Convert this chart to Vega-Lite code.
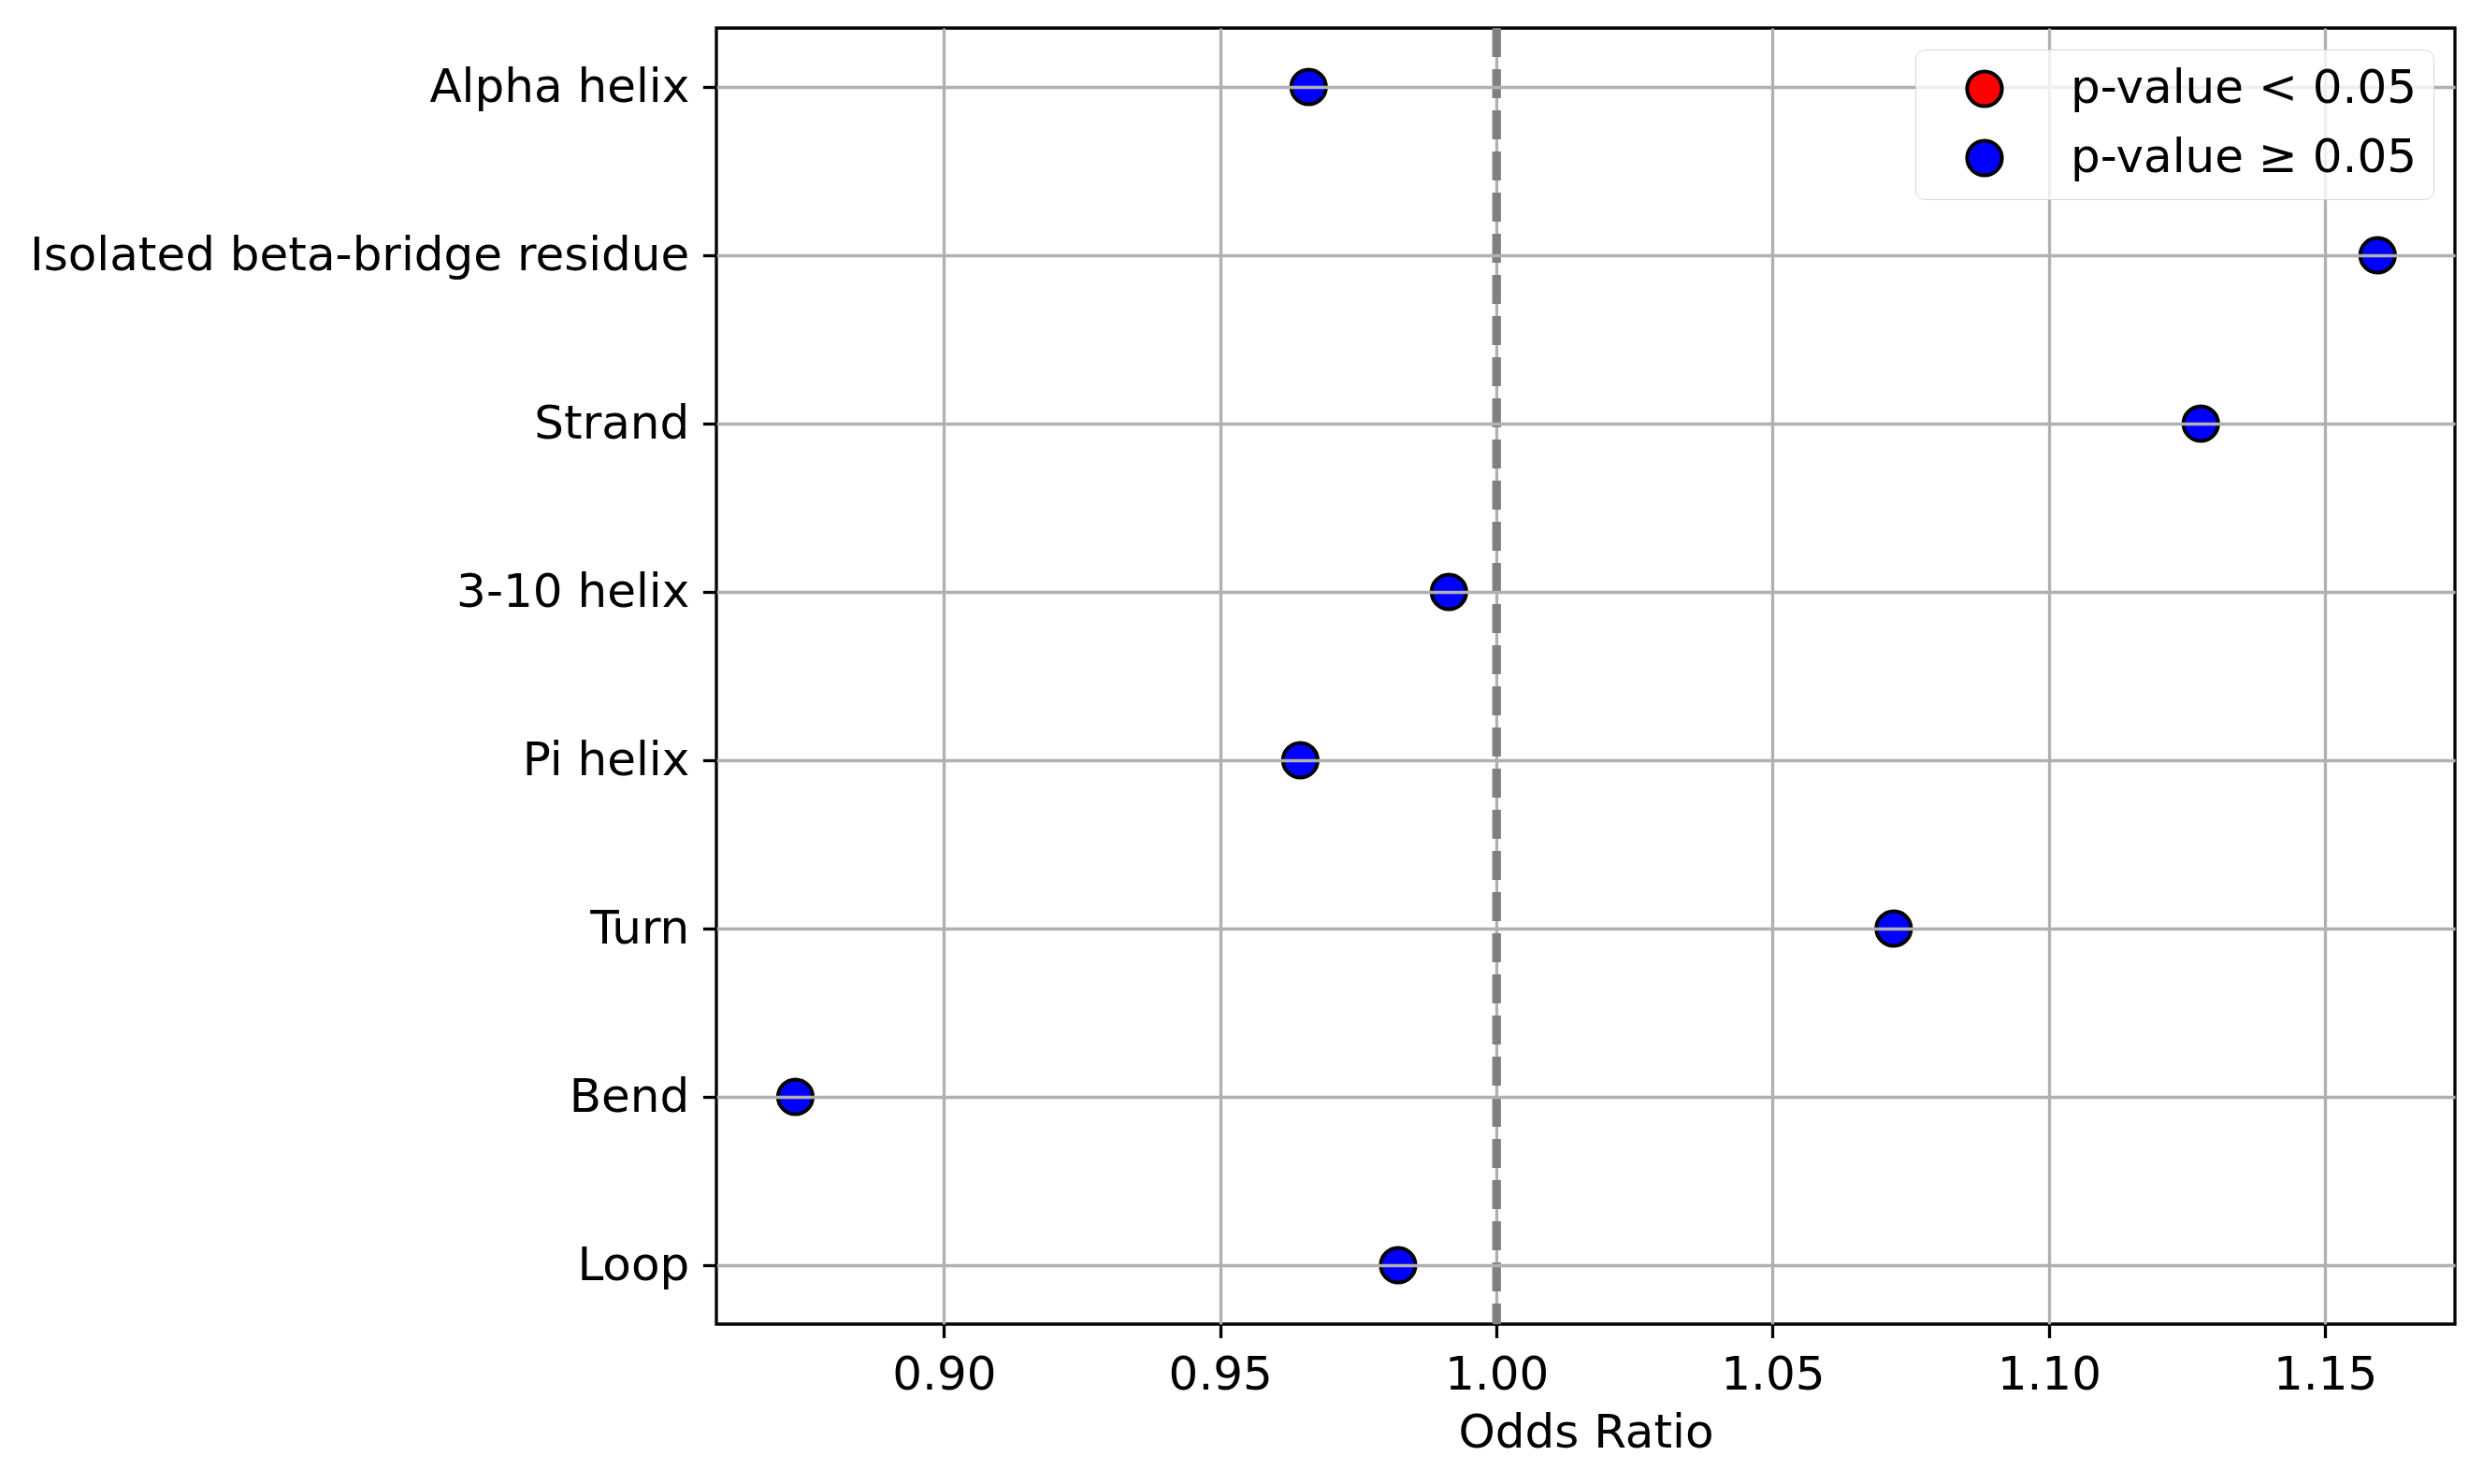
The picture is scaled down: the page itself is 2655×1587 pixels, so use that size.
{
  "$schema": "https://vega.github.io/schema/vega-lite/v6.json",
  "description": "Odds ratio per secondary structure type, coloured by p-value.",
  "width": 1859,
  "height": 1386,
  "padding": {"left": 31, "top": 25, "right": 30, "bottom": 5},
  "background": "white",
  "config": {
    "font": "DejaVu Sans",
    "view": {"stroke": "black", "strokeWidth": 3.3}
  },
  "data": {
    "values": [
      {"structure": "Alpha helix", "odds_ratio": 0.966, "significance": "p-value ≥ 0.05"},
      {"structure": "Isolated beta-bridge residue", "odds_ratio": 1.1595, "significance": "p-value ≥ 0.05"},
      {"structure": "Strand", "odds_ratio": 1.1275, "significance": "p-value ≥ 0.05"},
      {"structure": "3-10 helix", "odds_ratio": 0.9914, "significance": "p-value ≥ 0.05"},
      {"structure": "Pi helix", "odds_ratio": 0.9645, "significance": "p-value ≥ 0.05"},
      {"structure": "Turn", "odds_ratio": 1.0719, "significance": "p-value ≥ 0.05"},
      {"structure": "Bend", "odds_ratio": 0.8731, "significance": "p-value ≥ 0.05"},
      {"structure": "Loop", "odds_ratio": 0.9822, "significance": "p-value ≥ 0.05"}
    ]
  },
  "layer": [
    {
      "mark": {"type": "circle", "size": 1385, "opacity": 1, "stroke": "black", "strokeWidth": 4},
      "encoding": {
        "x": {
          "field": "odds_ratio",
          "type": "quantitative",
          "scale": {"domain": [0.8588, 1.1735], "nice": false, "zero": false},
          "axis": {
            "title": "Odds Ratio",
            "values": [0.9, 0.95, 1.0, 1.05, 1.1, 1.15],
            "format": ".2f",
            "labelFontSize": 50,
            "titleFontSize": 50,
            "titleFontWeight": "normal",
            "labelColor": "black",
            "titleColor": "black",
            "tickSize": 14.6,
            "tickWidth": 3.3,
            "tickColor": "black",
            "labelPadding": 14.6,
            "titlePadding": 12,
            "labelFlush": false,
            "gridColor": "#b0b0b0",
            "gridWidth": 3.3,
            "domain": false,
            "zindex": 0
          }
        },
        "y": {
          "field": "structure",
          "type": "nominal",
          "sort": ["Alpha helix", "Isolated beta-bridge residue", "Strand", "3-10 helix", "Pi helix", "Turn", "Bend", "Loop"],
          "scale": {"type": "point", "padding": 0.35},
          "axis": {
            "title": null,
            "labelFontSize": 50,
            "labelColor": "black",
            "labelLimit": 1000,
            "tickSize": 14.6,
            "tickWidth": 3.3,
            "tickColor": "black",
            "labelPadding": 14.6,
            "grid": true,
            "gridColor": "#b0b0b0",
            "gridWidth": 3.3,
            "domain": false,
            "zindex": 1
          }
        },
        "fill": {
          "field": "significance",
          "type": "nominal",
          "scale": {"domain": ["p-value < 0.05", "p-value ≥ 0.05"], "range": ["red", "blue"]},
          "legend": {
            "title": null,
            "orient": "top-right",
            "offset": 23,
            "padding": 17,
            "strokeColor": "#d6d6d6",
            "cornerRadius": 10,
            "fillColor": "rgba(255,255,255,0.8)",
            "labelFontSize": 50,
            "labelColor": "black",
            "labelLimit": 1000,
            "symbolType": "circle",
            "symbolSize": 1385,
            "symbolStrokeColor": "black",
            "symbolStrokeWidth": 4,
            "symbolOffset": 32,
            "labelOffset": 67,
            "rowPadding": 20,
            "zindex": 2,
            "encode": {"legend": {"update": {"strokeWidth": {"value": 4}}}}
          }
        }
      }
    },
    {
      "mark": {"type": "rule", "color": "#808080", "strokeWidth": 8.3, "strokeDash": [31, 13]},
      "encoding": {"x": {"datum": 1.0}}
    }
  ]
}
